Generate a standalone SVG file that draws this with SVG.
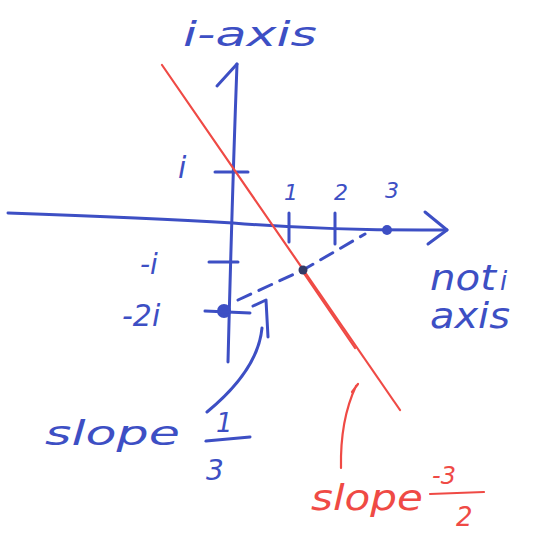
<svg xmlns="http://www.w3.org/2000/svg" width="549" height="540" viewBox="0 0 549 540">
<style>
.b{stroke:#3d4fc4;fill:none;stroke-width:3;stroke-linecap:round;stroke-linejoin:round}
.r{stroke:#ef4a45;fill:none;stroke-width:2.2;stroke-linecap:round;stroke-linejoin:round}
.bt{fill:#3d4fc4;font-family:"DejaVu Sans",sans-serif;font-style:italic}
.rt{fill:#ef4a45;font-family:"DejaVu Sans",sans-serif;font-style:italic}
.d{stroke-dasharray:14 9}
</style>
<rect width="549" height="540" fill="#fff"/>
<g id="axes">
<path class="b" d="M8,213 Q150,218 233,223 Q330,231 447,230"/>
<path class="b" d="M425,212 L447,230 L428,244"/>
<path class="b" d="M237,64 Q232,200 228,362"/>
<path class="b" d="M217,86 L237,64"/>
<path class="b" d="M215,172 L248,172"/>
<path class="b" d="M209,262 L238,262"/>
<path class="b" d="M289,213 L289,242"/>
<path class="b" d="M335,213 L335,244"/>
<circle cx="387" cy="230" r="5" fill="#3d4fc4"/>
<circle cx="224" cy="311" r="7" fill="#3d4fc4"/>
<path class="b" d="M205,311 L250,313"/>
</g>
<g id="blue-line">
<path class="b d" d="M238,300 L303,270 L365,234"/>
<path class="b" d="M253,306 L266,300 L268,337"/>
<path class="b" d="M262,328 Q258,370 207,412"/>
</g>
<g id="red-line">
<path class="r" d="M162,65 L400,410"/>
<path class="r" d="M303,272 L355,348"/>
<path class="r" d="M352,392 L358,384 M356,386 Q340,420 341,468"/>
<circle cx="303" cy="270" r="4.5" fill="#333a66"/>
</g>
<g id="labels">
<text class="bt" x="183" y="46" font-size="34" textLength="134" lengthAdjust="spacingAndGlyphs">i-axis</text>
<text class="bt" x="178" y="178" font-size="30">i</text>
<text class="bt" x="284" y="200" font-size="22">1</text>
<text class="bt" x="334" y="200" font-size="22">2</text>
<text class="bt" x="385" y="198" font-size="22">3</text>
<text class="bt" x="140" y="274" font-size="28">-i</text>
<text class="bt" x="122" y="326" font-size="30">-2i</text>
<text class="bt" x="430" y="290" font-size="36" textLength="66" lengthAdjust="spacingAndGlyphs">not</text>
<text class="bt" x="500" y="290" font-size="26">i</text>
<text class="bt" x="430" y="328" font-size="36" textLength="80" lengthAdjust="spacingAndGlyphs">axis</text>
<text class="bt" x="45" y="445" font-size="34" textLength="135" lengthAdjust="spacingAndGlyphs">slope</text>
<text class="bt" x="216" y="432" font-size="26">1</text>
<path class="b" d="M206,441 L250,437"/>
<text class="bt" x="206" y="480" font-size="28">3</text>
<text class="rt" x="311" y="510" font-size="36" textLength="112" lengthAdjust="spacingAndGlyphs">slope</text>
<text class="rt" x="432" y="484" font-size="24">-3</text>
<path class="r" d="M430,494 L484,492"/>
<text class="rt" x="456" y="526" font-size="26">2</text>
</g>
</svg>
